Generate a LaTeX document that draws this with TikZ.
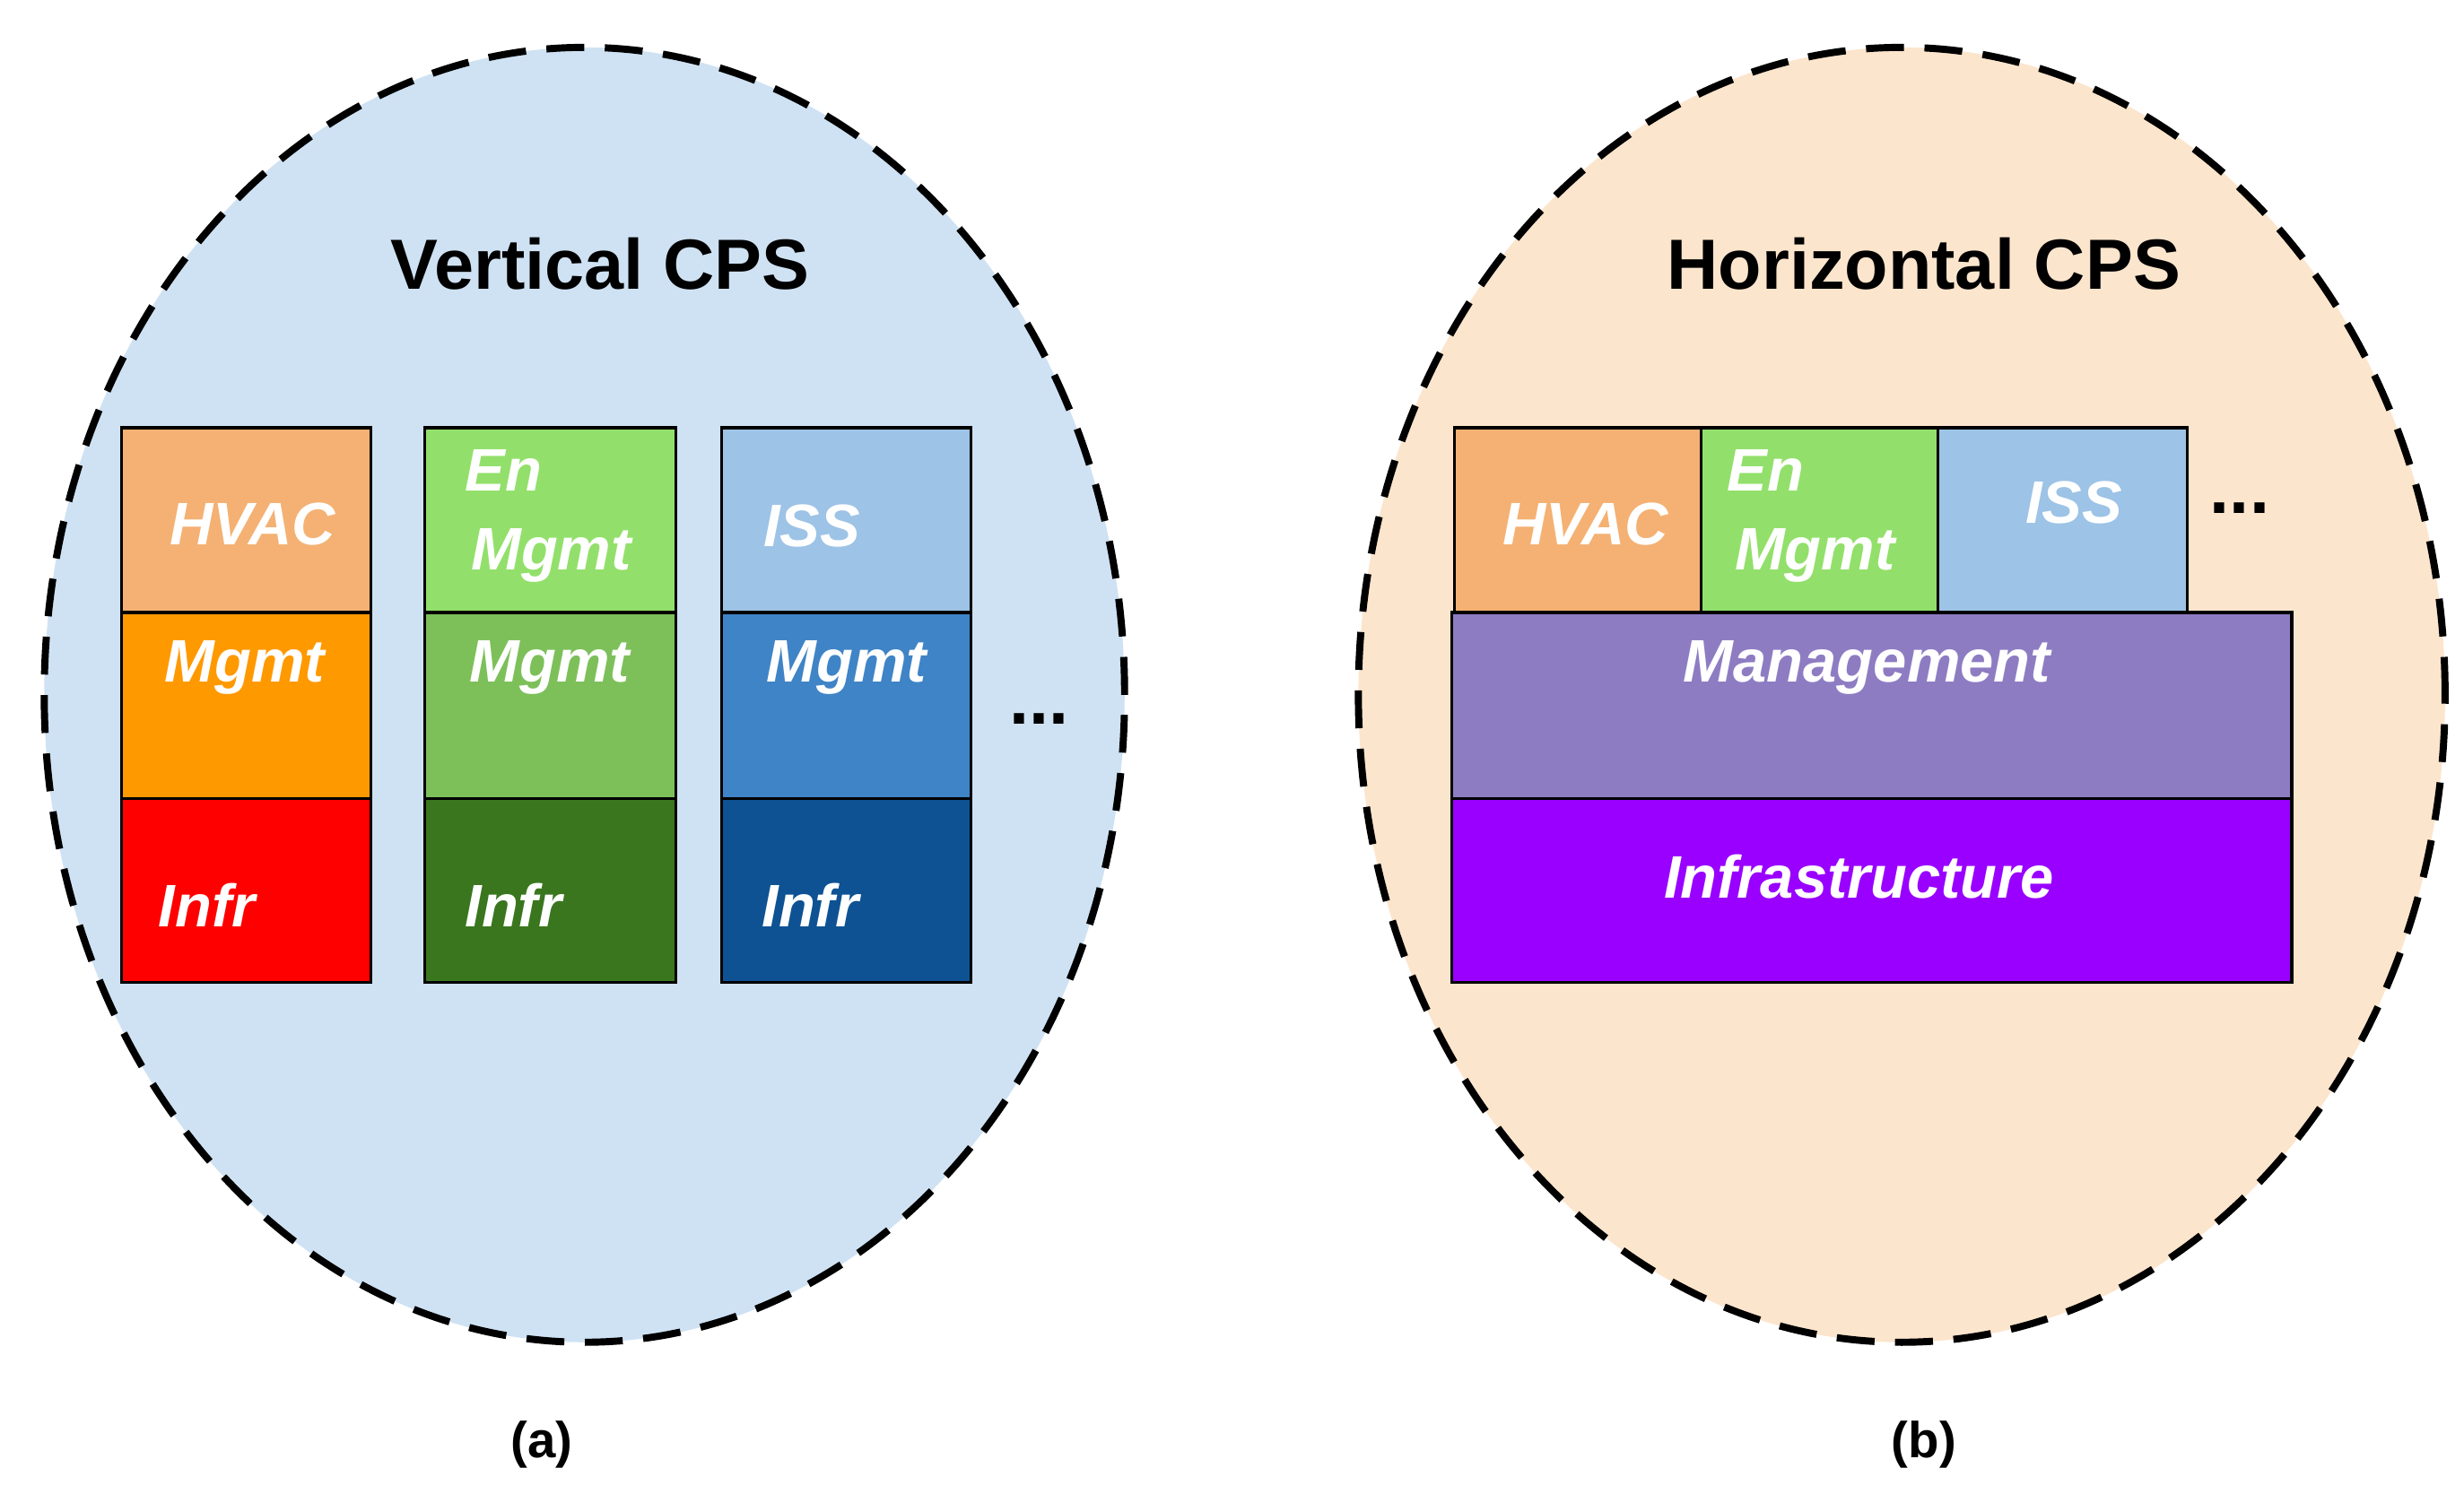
\documentclass[tikz,border=0pt]{standalone}
\usepackage{fontspec}
\usetikzlibrary{shapes.geometric}
\setmainfont{Liberation Sans}
\begin{document}
\begin{tikzpicture}[x=1pt,y=-1pt,
  box/.style={draw=black,line width=1.8pt,anchor=north west,inner sep=0pt},
  lab/.style={text=white,font=\fontsize{38}{40}\selectfont\bfseries\itshape},
  ell/.style={draw=black,line width=4.5pt,dash pattern=on 24pt off 13pt},
  title/.style={font=\fontsize{45}{48}\selectfont\bfseries}]
\useasboundingbox (0,0) rectangle (1560,946);
\definecolor{lb}{HTML}{CFE2F3}\definecolor{lo}{HTML}{FCE5CD}
\node[ell,fill=lb,ellipse,minimum width=684pt,minimum height=820pt] (e1) at (370,440) {};
\node[ell,fill=lo,ellipse,minimum width=688pt,minimum height=820pt] (e2) at (1204,440) {};
\node[title] (t1) at (380,167) {Vertical CPS};
\node[title] (t2) at (1218,167) {Horizontal CPS};
\node[font=\fontsize{32}{34}\selectfont\bfseries] (a) at (343,915) {(a)};
\node[font=\fontsize{32}{34}\selectfont\bfseries] (b) at (1218,915) {(b)};
% column 1
\node[box,fill={rgb,255:red,244;green,177;blue,115},minimum width=158pt,minimum height=117pt] (h1) at (76,270) {};
\node[box,fill={rgb,255:red,255;green,153;blue,0},minimum width=158pt,minimum height=118pt] (m1) at (76,387) {};
\node[box,fill={rgb,255:red,255;green,0;blue,0},minimum width=158pt,minimum height=116pt] (i1) at (76,505) {};
% column 2
\node[box,fill={rgb,255:red,146;green,224;blue,107},minimum width=159pt,minimum height=117pt] (h2) at (268,270) {};
\node[box,fill={rgb,255:red,125;green,192;blue,90},minimum width=159pt,minimum height=118pt] (m2) at (268,387) {};
\node[box,fill={rgb,255:red,58;green,118;blue,30},minimum width=159pt,minimum height=116pt] (i2) at (268,505) {};
% column 3
\node[box,fill={rgb,255:red,157;green,195;blue,230},minimum width=158pt,minimum height=117pt] (h3) at (456,270) {};
\node[box,fill={rgb,255:red,63;green,132;blue,198},minimum width=158pt,minimum height=118pt] (m3) at (456,387) {};
\node[box,fill={rgb,255:red,14;green,82;blue,147},minimum width=158pt,minimum height=116pt] (i3) at (456,505) {};
\node[lab] (th1) at (160,332) {HVAC};
\node[lab] (tm1) at (155,423) {Mgmt};
\node[lab] (ti1) at (131,573) {Infr};
\node[lab] (te2) at (319,298) {En};
\node[lab] (tn2) at (349,352) {Mgmt};
\node[lab] (tm2) at (348,423) {Mgmt};
\node[lab] (ti2) at (325,573) {Infr};
\node[lab] (ts3) at (514,333) {ISS};
\node[lab] (tm3) at (536,423) {Mgmt};
\node[lab] (ti3) at (513,573) {Infr};
\node[font=\fontsize{45}{48}\selectfont\bfseries] (d1) at (658,455) {...};
% right
\node[box,fill={rgb,255:red,244;green,177;blue,115},minimum width=156pt,minimum height=117pt] (hr) at (920,270) {};
\node[box,fill={rgb,255:red,146;green,224;blue,107},minimum width=150pt,minimum height=117pt] (er) at (1076,270) {};
\node[box,fill={rgb,255:red,157;green,195;blue,230},minimum width=158pt,minimum height=117pt] (sr) at (1226,270) {};
\node[box,fill={rgb,255:red,142;green,124;blue,195},minimum width=532pt,minimum height=118pt] (mr) at (918,387) {};
\node[box,fill={rgb,255:red,153;green,0;blue,255},minimum width=532pt,minimum height=116pt] (ir) at (918,505) {};
\node[lab] (thr) at (1004,332) {HVAC};
\node[lab] (ter) at (1118,298) {En};
\node[lab] (tnr) at (1149,352) {Mgmt};
\node[lab] (tsr) at (1313,318) {ISS};
\node[lab] (tmr) at (1182,423) {Management};
\node[lab] (tir) at (1177,555) {Infrastructure};
\node[font=\fontsize{45}{48}\selectfont\bfseries] (d2) at (1418,322) {...};
\end{tikzpicture}
\end{document}
